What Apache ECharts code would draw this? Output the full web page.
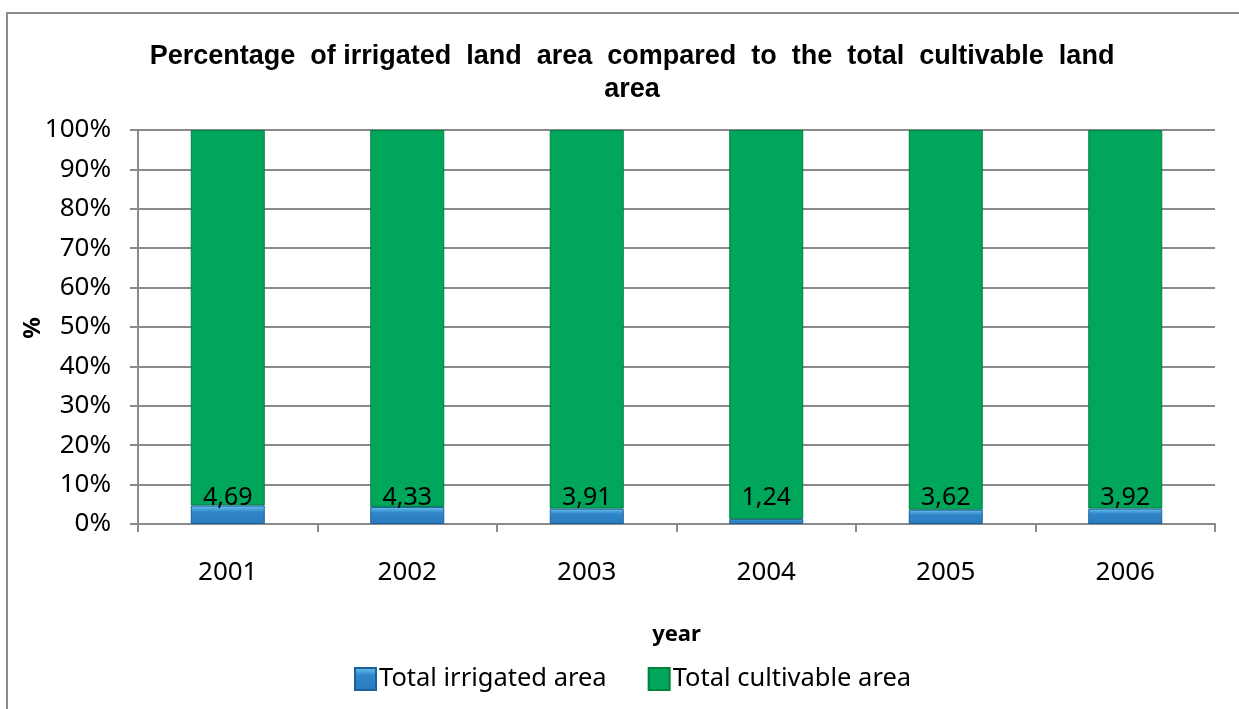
<!DOCTYPE html>
<html>
<head>
<meta charset="utf-8">
<script src="https://cdn.jsdelivr.net/npm/echarts@6/dist/echarts.min.js"></script>
<style>
  html, body { margin: 0; padding: 0; background: #fff; }
  #chart { width: 1239px; height: 709px; }
</style>
</head>
<body>
<div id="chart"></div>
<script>
// Years on the x axis
const years = ['2001', '2002', '2003', '2004', '2005', '2006'];
// Share of irrigated land (%)
const irrigated = [4.69, 4.33, 3.91, 1.24, 3.62, 3.92];
// Remaining cultivable land share (%)
const cultivable = [95.31, 95.67, 96.09, 98.76, 96.38, 96.08];

const FONT = '"Noto Sans", "Open Sans", sans-serif';
const TITLE_FONT = '"Liberation Sans", Arial, sans-serif';

const chart = echarts.init(document.getElementById('chart'), null, { renderer: 'canvas' });

chart.setOption({
  animation: false,
  backgroundColor: '#ffffff',
  title: {
    text: 'Percentage  of irrigated  land  area  compared  to  the  total  cultivable  land\narea',
    left: 627,
    top: 35,
    textAlign: 'center',
    textStyle: {
      fontFamily: TITLE_FONT,
      fontWeight: 'bold',
      fontSize: 27,
      lineHeight: 33,
      color: '#000'
    }
  },
  graphic: [
    {
      // outer chart frame
      type: 'rect',
      shape: { x: 7, y: 13, width: 1300, height: 800 },
      style: { fill: 'none', stroke: '#868e90', lineWidth: 2 },
      silent: true,
      z: -1
    },
    {
      // y axis title
      type: 'text',
      x: 33,
      y: 328,
      rotation: Math.PI / 2,
      style: {
        text: '%',
        fontFamily: FONT,
        fontWeight: 'bold',
        fontSize: 24,
        fill: '#000',
        align: 'center',
        verticalAlign: 'middle'
      },
      silent: true
    }
  ],
  legend: {
    left: 349,
    top: 661,
    itemWidth: 21,
    itemHeight: 22,
    itemGap: 41,
    icon: 'rect',
    textStyle: { fontFamily: FONT, fontSize: 25.5, color: '#000', padding: [0, 0, 0, -2] },
    data: ['Total irrigated area', 'Total cultivable area']
  },
  grid: { left: 138, right: 24, top: 130, bottom: 185 },
  xAxis: {
    type: 'category',
    data: years,
    name: 'year',
    nameLocation: 'middle',
    nameGap: 100,
    nameTextStyle: { fontFamily: FONT, fontWeight: 'bold', fontSize: 22, color: '#000' },
    axisLine: { lineStyle: { color: '#8a8a8a', width: 2 } },
    axisTick: { show: true, length: 8, lineStyle: { color: '#8a8a8a', width: 2 } },
    axisLabel: { fontFamily: FONT, fontSize: 26, color: '#000', margin: 36 }
  },
  yAxis: {
    type: 'value',
    min: 0,
    max: 100,
    interval: 10,
    axisLine: { show: true, lineStyle: { color: '#8a8a8a', width: 2 } },
    axisTick: { show: true, length: 8, lineStyle: { color: '#8a8a8a', width: 2 } },
    splitLine: { lineStyle: { color: '#8a8a8a', width: 2 } },
    axisLabel: { fontFamily: FONT, fontSize: 26, color: '#000', margin: 27, formatter: '{value}%' }
  },
  series: [
    {
      name: 'Total irrigated area',
      type: 'bar',
      stack: 'total',
      barWidth: 74,
      z: 3,
      data: irrigated,
      itemStyle: {
        color: new echarts.graphic.LinearGradient(0, 0, 0, 1, [
          { offset: 0, color: '#6cc6f0' },
          { offset: 0.35, color: '#2f86c9' },
          { offset: 1, color: '#2a7abd' }
        ]),
        borderColor: '#1d5f98',
        borderWidth: 1
      },
      label: {
        show: true,
        position: 'insideBottom',
        distance: 14,
        fontFamily: FONT,
        fontSize: 25,
        color: '#000',
        formatter: p => p.value.toFixed(2).replace('.', ',')
      }
    },
    {
      name: 'Total cultivable area',
      type: 'bar',
      stack: 'total',
      barWidth: 74,
      z: 2,
      data: cultivable,
      itemStyle: {
        color: '#00a65a',
        borderColor: '#00813f',
        borderWidth: 1
      },
      label: { show: false }
    }
  ]
});
</script>
</body>
</html>
